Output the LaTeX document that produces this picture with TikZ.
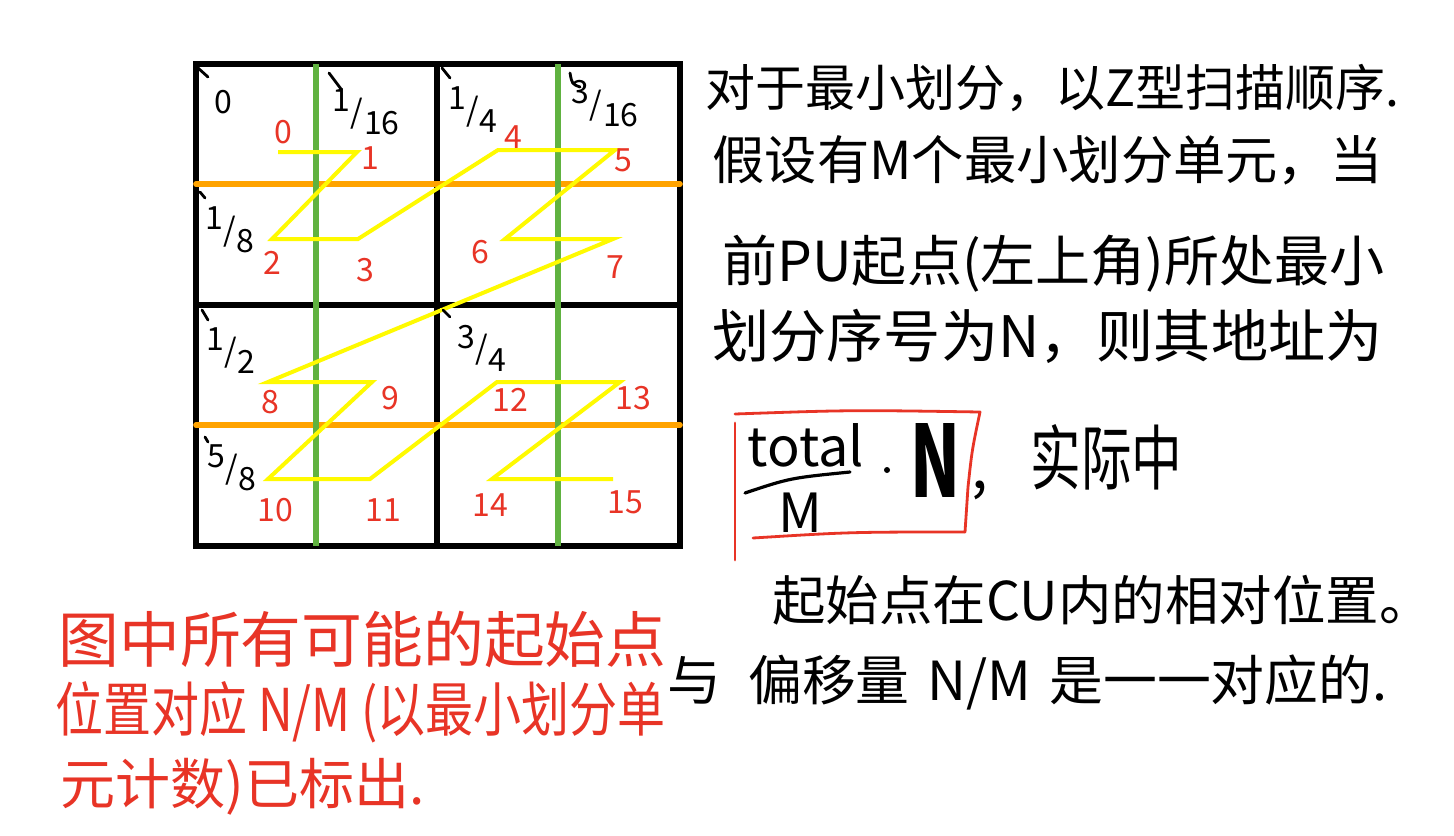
\documentclass[tikz,border=0pt]{standalone}
\usepackage{fontspec}
\setmainfont{Noto Sans CJK SC}
\usepackage{graphicx}
\definecolor{gridgreen}{RGB}{96,178,64}
\definecolor{gridorange}{RGB}{255,163,0}
\definecolor{zyellow}{RGB}{255,250,0}
\definecolor{pred}{RGB}{232,52,38}
\newcommand{\hwfrac}[2]{\raisebox{0.36em}{#1}\kern0.02em/\kern0.02em\raisebox{-0.36em}{#2}}
\newcommand{\fitw}[2]{\resizebox{#1}{!}{#2}}
\newcommand{\fitwh}[3]{\resizebox{#1}{#2}{#3}}
\tikzset{
  blackgrid/.style={line width=2.6pt, black, line cap=rect},
  greenline/.style={line width=2.6pt, gridgreen},
  orangeline/.style={line width=2.8pt, gridorange, line cap=round},
  zpath/.style={line width=2pt, zyellow, line join=miter},
  idx/.style={text=pred, font=\fontsize{16pt}{18pt}\selectfont, inner sep=0pt},
  frac/.style={text=black, font=\fontsize{16pt}{18pt}\selectfont, inner sep=0pt},
  tickmark/.style={line width=1.4pt, black, line cap=round},
  note/.style={anchor=west, inner sep=0pt, text=black},
  rednote/.style={anchor=west, inner sep=0pt, text=pred},
  redbox/.style={line width=1.4pt, pred, line cap=round, line join=round}
}
\begin{document}
\begin{tikzpicture}[x=0.5pt,y=-0.5pt]
\useasboundingbox (0,0) rectangle (1454,835);
\fill[white] (0,0) rectangle (1454,835);
% black grid
\draw[blackgrid] (196,64) rectangle (680,546);
\draw[blackgrid] (437,64) -- (437,546);
\draw[blackgrid] (196,305) -- (680,305);
% orange horizontal lines
\draw[orangeline] (196,184) -- (680,184);
\draw[orangeline] (196,425) -- (680,425);
% green vertical lines
\draw[greenline] (316,64) -- (316,546);
\draw[greenline] (558,64) -- (558,546);
% Z-order scan path
\coordinate (p0) at (278,152);
\coordinate (p1) at (357,152);
\coordinate (p2) at (272,239);
\coordinate (p3) at (358,239);
\coordinate (p4) at (498,150);
\coordinate (p5) at (615,150);
\coordinate (p6) at (505,239);
\coordinate (p7) at (613,239);
\coordinate (p8) at (268,382);
\coordinate (p9) at (372,382);
\coordinate (p10) at (268,479);
\coordinate (p11) at (370,479);
\coordinate (p12) at (497,382);
\coordinate (p13) at (620,382);
\coordinate (p14) at (492,479);
\coordinate (p15) at (613,479);
\draw[zpath] (p0) -- (p1) -- (p2) -- (p3) -- (p4) -- (p5) -- (p6) -- (p7) -- (p8) -- (p9) -- (p10) -- (p11) -- (p12) -- (p13) -- (p14) -- (p15);
% red indices
\node[idx] (n0) at (283,132) {0};
\node[idx] (n1) at (370,158) {1};
\node[idx] (n2) at (272,263) {2};
\node[idx] (n3) at (365,270) {3};
\node[idx] (n4) at (513,137) {4};
\node[idx] (n5) at (623,160) {5};
\node[idx] (n6) at (480,252) {6};
\node[idx] (n7) at (615,267) {7};
\node[idx] (n8) at (270,402) {8};
\node[idx] (n9) at (390,398) {9};
\node[idx] (n10) at (275,510) {10};
\node[idx] (n11) at (383,510) {11};
\node[idx] (n12) at (510,400) {12};
\node[idx] (n13) at (633,398) {13};
\node[idx] (n14) at (490,505) {14};
\node[idx] (n15) at (625,502) {15};
% black offset labels with corner ticks
\node[frac] (f0) at (223,102) {0};
\node[frac] (f116) at (366,112) {\hwfrac{1}{16}};
\node[frac] (f14) at (473,110) {\hwfrac{1}{4}};
\node[frac] (f316) at (605,104) {\hwfrac{3}{16}};
\node[frac] (f18) at (230,230) {\hwfrac{1}{8}};
\node[frac] (f12) at (231,351) {\hwfrac{1}{2}};
\node[frac] (f34) at (482,348) {\hwfrac{3}{4}};
\node[frac] (f58) at (232,468) {\hwfrac{5}{8}};
\draw[tickmark] (198,68) -- (208,77);
\draw[tickmark] (329,73) -- (341,89);
\draw[tickmark] (442,68) -- (450,78);
\draw[tickmark] (570,73) .. controls (572,84) .. (580,87);
\draw[tickmark] (200,192) -- (205,198);
\draw[tickmark] (202,310) -- (208,320);
\draw[tickmark] (443,310) -- (450,317);
\draw[tickmark] (205,437) -- (208,442);
% right-hand notes
\node[note] (t1) at (705,88) {\fitw{347pt}{对于最小划分，以Z型扫描顺序.}};
\node[note] (t2) at (712,160) {\fitw{335pt}{假设有M个最小划分单元，当}};
\node[note] (t3) at (722,264) {\fitw{331pt}{前PU起点(左上角)所处最小}};
\node[note] (t4) at (712,336) {\fitw{335pt}{划分序号为N，则其地址为}};
% formula box
\node[inner sep=0pt] (tot) at (806,445) {\fontsize{27pt}{30pt}\selectfont total};
\node[inner sep=0pt] (mm) at (800,513) {\fontsize{27pt}{30pt}\selectfont M};
\draw[line width=1.6pt, line cap=round] (745,493) .. controls (790,478) .. (850,472);
\fill (887,470) circle (3);
\node[inner sep=0pt] (nn) at (935,460) {\resizebox{25pt}{37pt}{\bfseries N}};
\node[inner sep=0pt] (comma) at (980,490) {\fontsize{30pt}{32pt}\selectfont ,};
\draw[redbox] (735,423) -- (735,560);
\draw[redbox] (735,414) .. controls (850,410) .. (980,412) .. controls (972,450) .. (968,487) -- (965,532);
\draw[redbox] (753,538) .. controls (850,532) .. (965,532);
\node[note] (t5) at (1030,457) {\fitwh{76pt}{30pt}{实际中}};
\node[note] (t6) at (772,600) {\fitw{330pt}{起始点在CU内的相对位置。}};
\node[note] (t7) at (667,682) {\fitw{360pt}{与\,\,\,偏移量\,\,N/M\,\,是一一对应的.}};
% red notes
\node[rednote] (r1) at (58,640) {\fitw{304pt}{图中所有可能的起始点}};
\node[rednote] (r2) at (55,712) {\fitwh{305pt}{25pt}{位置对应 N/M (以最小划分单}};
\node[rednote] (r3) at (60,787) {\fitw{182pt}{元计数)已标出.}};
\end{tikzpicture}
\end{document}
